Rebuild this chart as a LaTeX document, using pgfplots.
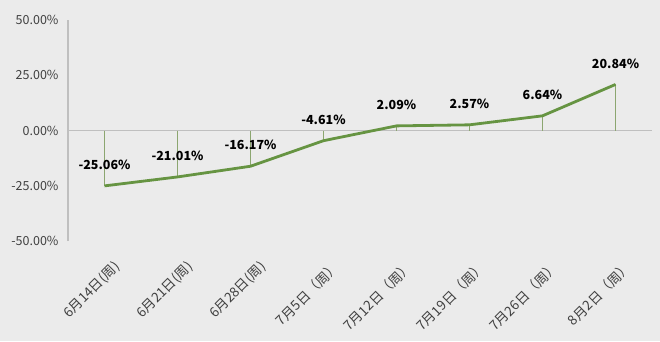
\documentclass[border=0pt]{standalone}
\usepackage{pgfplots}
\pgfplotsset{compat=1.18}
\usepackage{fontspec}
\setmainfont{Noto Sans CJK SC}
\definecolor{bg}{RGB}{235,235,235}
\definecolor{lg}{RGB}{102,148,66}
\definecolor{dropc}{RGB}{140,166,112}
\definecolor{axc}{RGB}{191,191,191}
\definecolor{txt}{RGB}{64,64,64}
\begin{document}
\begin{tikzpicture}
\fill[bg] (-68pt,-100pt) rectangle (592pt,241pt);
\begin{axis}[at={(0pt,0pt)}, anchor=south west, scale only axis,
  width=584pt, height=221pt,
  xmin=-0.5, xmax=7.5, ymin=-50, ymax=50,
  clip=false,
  axis lines=left, axis line style={-},
  x axis line style={draw=none},
  y axis line style={axc, line width=1.2pt},
  major tick length=0pt,
  xtick={0,...,7},
  xticklabels={6月14日(周), 6月21日(周), 6月28日(周), 7月5日（周）, 7月12日（周）, 7月19日（周）, 7月26日（周）, 8月2日（周）},
  xticklabel style={rotate=45, anchor=east, font=\fontsize{13.5}{15}\selectfont, text=txt, yshift=-26pt, xshift=-4pt},
  ytick={-50,-25,0,25,50},
  yticklabels={-50.00\%, -25.00\%, 0.00\%, 25.00\%, 50.00\%},
  yticklabel style={font=\fontsize{12.5}{14}\selectfont, text=txt, xshift=-6pt},
]
\addplot[axc, line width=1.2pt] coordinates {(-0.5,0) (7.5,0)};
\addplot[ycomb, dropc, line width=0.9pt] table[x=x, y=y] {
x y
0 -25.06
1 -21.01
2 -16.17
3 -4.61
4 2.09
5 2.57
6 6.64
7 20.84
};
\addplot[lg, line width=2.8pt, line join=round, no markers,
  nodes near coords, point meta=explicit symbolic,
  every node near coord/.append style={anchor=center, yshift=21pt, text=black, font=\fontsize{12.5}{14}\selectfont\bfseries}]
  table[x=x, y=y, meta=lab] {
x y lab
0 -25.06 -25.06\%
1 -21.01 -21.01\%
2 -16.17 -16.17\%
3 -4.61 -4.61\%
4 2.09 2.09\%
5 2.57 2.57\%
6 6.64 6.64\%
7 20.84 20.84\%
};
\end{axis}
\pgfresetboundingbox
\path[use as bounding box] (-68pt,-100pt) rectangle (592pt,241pt);
\end{tikzpicture}
\end{document}
